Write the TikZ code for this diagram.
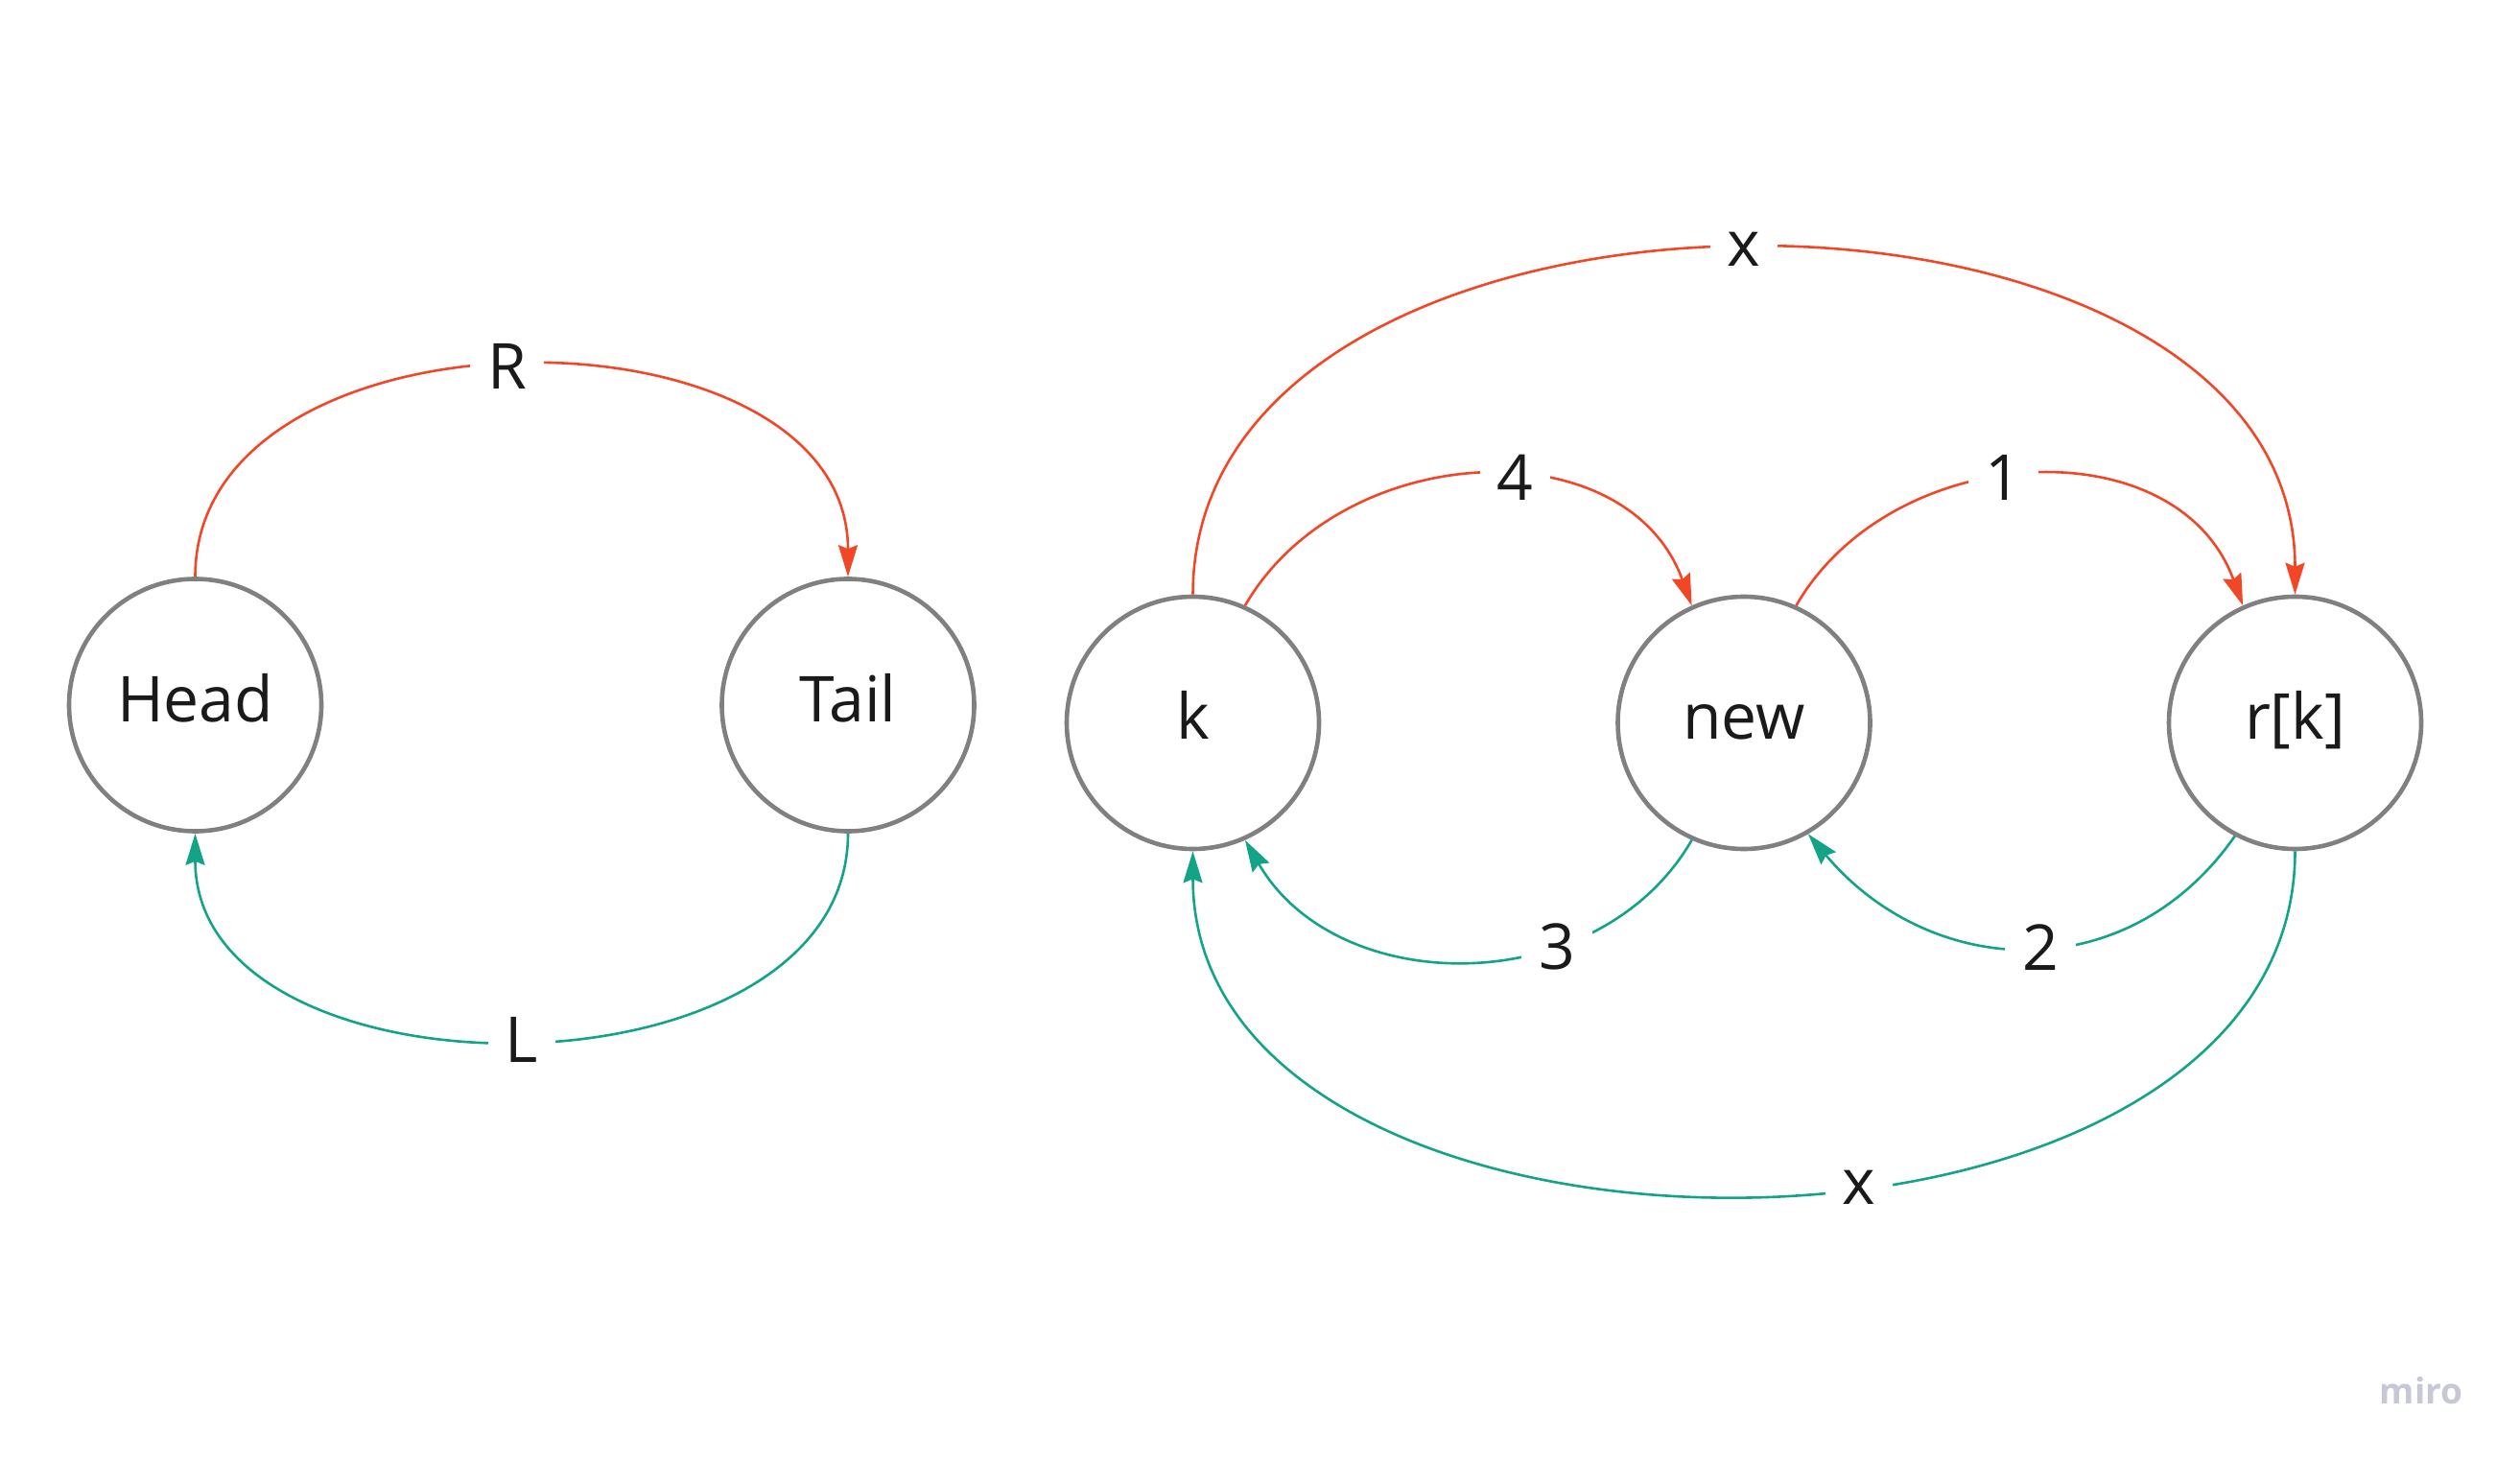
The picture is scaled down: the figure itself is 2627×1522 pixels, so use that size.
\documentclass[tikz,border=0pt]{standalone}
\usepackage{fontspec}
\setmainfont{Open Sans}
\usetikzlibrary{arrows.meta}
\definecolor{edgered}{HTML}{F24726}
\definecolor{edgegreen}{HTML}{13A386}
\definecolor{ringgray}{HTML}{808080}
\definecolor{inkblack}{HTML}{1A1A1A}
\definecolor{mirogray}{HTML}{C6C8D5}
\tikzset{
  vertex/.style={circle, draw=ringgray, line width=2.3pt, minimum size=131.5pt,
    inner sep=0pt, text=inkblack, font=\fontsize{33}{36}\selectfont,
    text height=17.5pt, text depth=0pt},
  lbl/.style={fill=white, inner xsep=9pt, inner ysep=2pt, text=inkblack,
    font=\fontsize{33}{36}\selectfont},
  tipstyle/.style={-{Stealth[length=16.5pt,width=10pt,inset=2pt]}},
  redline/.style={draw=edgered, line width=1.3pt, tipstyle},
  greenline/.style={draw=edgegreen, line width=1.3pt, tipstyle},
}
\begin{document}
\begin{tikzpicture}[x=0.5pt,y=0.5pt]
\useasboundingbox (0,0) rectangle (2627,1522);

\node[vertex] (head) at (203.5,787) {Head};
\node[vertex] (tail) at (884,787) {Tail};
\node[vertex] (k) at (1243.5,768.5) {k};
\node[vertex] (new) at (1818,768.5) {new};
\node[vertex] (rk) at (2392.5,768.5) {r[k]};

% left pair
\draw[redline] (head.north) .. controls +(0,293) and +(0,293) ..
  node[lbl,pos=0.485] {R} (tail.north);
\draw[greenline] (tail.south) .. controls +(0,-287) and +(0,-287) ..
  node[lbl,pos=0.5] {L} (head.south);

% outer arcs
\draw[redline] (k.north) .. controls +(0,480) and +(0,480) ..
  node[lbl,pos=0.5] {x} (rk.north);
\draw[greenline] (rk.south) .. controls +(0,-477) and +(0,-477) ..
  node[lbl,pos=0.43] {x} (k.south);

% inner arcs
\draw[redline] (k.66) .. controls +(60:200) and +(110:200) ..
  node[lbl,pos=0.565] {4} (new.114);
\draw[redline] (new.66) .. controls +(60:200) and +(110:200) ..
  node[lbl,pos=0.45] {1} (rk.114);
\draw[greenline] (new.246) .. controls +(-120:193) and +(-60:193) ..
  node[lbl,pos=0.33] {3} (k.294);
\draw[greenline] (rk.242) .. controls +(-125:197) and +(-50:197) ..
  node[lbl,pos=0.47] {2} (new.300);

\node[text=mirogray, font=\fontsize{18.5}{20}\selectfont\bfseries] (wm) at (2524,72) {miro};
\end{tikzpicture}
\end{document}
